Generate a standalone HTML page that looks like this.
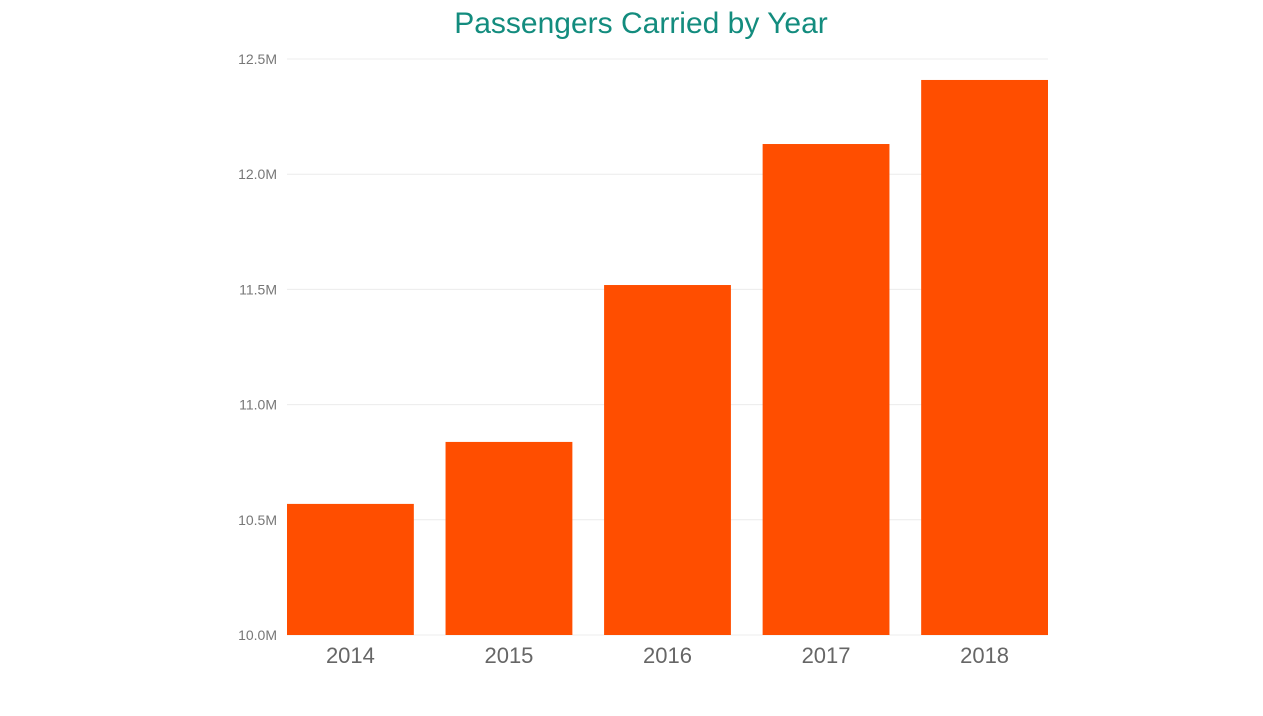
<!DOCTYPE html>
<html><head><meta charset="utf-8"><style>
body{margin:0;background:#fff;width:1263px;height:711px;overflow:hidden;font-family:"Liberation Sans",sans-serif}
</style></head><body>
<svg width="1263" height="711">
<text x="641" y="33" text-anchor="middle" font-size="30" fill="#138c7e">Passengers Carried by Year</text>
<g id="grid"></g><g id="bars"></g><g id="yt"></g><g id="xt"></g>
</svg>
<script>
const categories=["2014","2015","2016","2017","2018"];
const values=[10.569,10.838,11.519,12.131,12.409];
const yTicks=[10.0,10.5,11.0,11.5,12.0,12.5];
const yTickLabels=["10.0M","10.5M","11.0M","11.5M","12.0M","12.5M"];
const NS="http://www.w3.org/2000/svg";
const x0=287,x1=1048,yTop=59,yBot=635,yMin=10,yMax=12.5;
function y(v){return yBot-(v-yMin)/(yMax-yMin)*(yBot-yTop);}
const p=0.2,step=(x1-x0)/(categories.length-p),bw=step*(1-p);
function x(i){return x0+i*step;}
function mk(t,a,par){const e=document.createElementNS(NS,t);for(const k in a)e.setAttribute(k,a[k]);document.getElementById(par).appendChild(e);return e;}
yTicks.forEach((t,i)=>{
 const l=mk("line",{x1:x0,x2:x1,y1:y(t),y2:y(t),stroke:"#ececec","stroke-width":1},"grid");
 
 
 const tx=mk("text",{x:277,y:y(t)+5,"text-anchor":"end","font-size":14,fill:"#777"},"yt");
 tx.textContent=yTickLabels[i];
 
 
});
categories.forEach((c,i)=>{
 const r=mk("rect",{x:x(i),y:y(values[i]),width:bw,height:yBot-y(values[i]),fill:"#ff4e00"},"bars");
 
 
 const t=mk("text",{x:x(i)+bw/2,y:663,"text-anchor":"middle","font-size":22,fill:"#666"},"xt");
 t.textContent=c;
 
 
});
</script>
</body></html>
